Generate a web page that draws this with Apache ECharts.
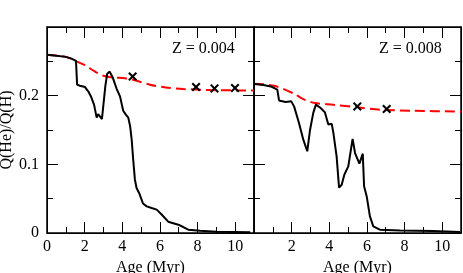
<!DOCTYPE html>
<html><head><meta charset="utf-8">
<script src="https://cdn.jsdelivr.net/npm/echarts@6/dist/echarts.min.js"></script>
<style>html,body{margin:0;padding:0;background:#fff}#c{width:463px;height:273px}</style>
</head><body><div id="c"></div>
<script>
// Panel titles
const panelLabels = ['Z = 0.004', 'Z = 0.008'];
const xTickLabels = ['0', '2', '4', '6', '8', '10'];
const yTickLabels = ['0', '0.1', '0.2'];

// Z = 0.004 : solid black model
const age004 = [0,0.5,1.0,1.3,1.54,1.6,1.75,2.02,2.2,2.35,2.5,2.64,2.72,2.82,2.92,3.1,3.2,3.33,3.5,3.7,3.88,4.05,4.2,4.32,4.42,4.5,4.58,4.67,4.76,4.9,5.1,5.3,5.56,5.83,6.09,6.44,6.98,7.24,7.51,8.13,9.0,10.8];
const q004   = [0.2597,0.258,0.2565,0.254,0.2508,0.216,0.2145,0.2125,0.206,0.198,0.187,0.168,0.173,0.174,0.166,0.214,0.232,0.235,0.226,0.21,0.199,0.178,0.172,0.168,0.155,0.136,0.107,0.078,0.0655,0.058,0.043,0.0388,0.0364,0.034,0.027,0.0165,0.0121,0.0087,0.0048,0.0033,0.002,0.001];
// Z = 0.004 : red dashed model
const ageDash004 = [0,1.0,1.58,2.02,2.5,3.0,3.5,4.14,4.57,5.47,6.3,7.24,9.0,11];
const qDash004   = [0.2597,0.2565,0.2499,0.2443,0.236,0.229,0.2265,0.2255,0.2232,0.216,0.212,0.2097,0.208,0.2075];
// Z = 0.004 : crosses
const ageX004 = [4.55,7.92,8.9,9.99];
const qX004   = [0.228,0.2127,0.2106,0.2111];

// Z = 0.008 : solid black model
const age008 = [0,0.5,0.89,1.24,1.33,1.68,1.98,2.13,2.39,2.62,2.83,2.98,3.15,3.29,3.54,3.77,3.95,4.13,4.22,4.39,4.52,4.66,4.8,5.01,5.24,5.37,5.6,5.78,5.85,5.99,6.16,6.34,6.69,7.76,9.5,10.95];
const q008   = [0.217,0.2155,0.2135,0.2087,0.1931,0.1908,0.1917,0.1844,0.1602,0.1359,0.119,0.1504,0.175,0.187,0.182,0.1756,0.158,0.159,0.1456,0.1116,0.066,0.0703,0.085,0.097,0.137,0.1165,0.101,0.1155,0.068,0.0533,0.0242,0.0096,0.0048,0.0038,0.003,0.0015];
// Z = 0.008 : red dashed model
const ageDash008 = [0,1.06,2.13,2.62,3.24,4.22,5.5,6.69,8.5,10.68,11];
const qDash008   = [0.2174,0.2145,0.2028,0.195,0.1893,0.1868,0.183,0.1796,0.178,0.177,0.1766];
// Z = 0.008 : crosses
const ageX008 = [5.49,7.05];
const qX008   = [0.1844,0.1805];

const zip = (a, b) => a.map((v, i) => [v, b[i]]);
const FONT = 'Liberation Serif';
const crossPath = 'path://M0,1.6L1.6,0L5,3.4L8.4,0L10,1.6L6.6,5L10,8.4L8.4,10L5,6.6L1.6,10L0,8.4L3.4,5Z';

function frame() {
  return {
    axisLine: { show: true, onZero: false, lineStyle: { color: '#000' } },
    axisTick: { show: true, inside: true, length: 11 },
    minorTick: { show: true, splitNumber: 2, length: 6 },
    splitLine: { show: false }
  };
}

function xAxes(grid, showZero) {
  const bottom = Object.assign(frame(), {
    type: 'value', gridIndex: grid, min: 0, max: 11, interval: 2, position: 'bottom',
    name: 'Age (Myr)', nameLocation: 'middle', nameGap: 14,
    nameTextStyle: { fontFamily: FONT, fontSize: 16, color: '#000' },
    axisLabel: {
      show: true, margin: 6, fontFamily: FONT, fontSize: 16, color: '#000',
      formatter: v => {
        const s = String(v);
        if (!showZero && v === 0) return ' ';
        return xTickLabels.indexOf(s) >= 0 ? s : ' ';
      }
    }
  });
  const top = Object.assign(frame(), {
    type: 'value', gridIndex: grid, min: 0, max: 11, interval: 2, position: 'top',
    axisLabel: { show: false }
  });
  return [bottom, top];
}

function yAxes(grid, showLabels) {
  const left = Object.assign(frame(), {
    type: 'value', gridIndex: grid, min: 0, max: 0.3, interval: 0.1, position: 'left',
    axisLabel: {
      show: showLabels, margin: 8, fontFamily: FONT, fontSize: 16, color: '#000',
      formatter: v => {
        const s = String(Math.round(v * 10) / 10);
        return yTickLabels.indexOf(s) >= 0 ? s : ' ';
      }
    }
  });
  if (showLabels) {
    Object.assign(left, {
      name: 'Q(He)/Q(H)', nameLocation: 'middle', nameGap: 32, nameRotate: 90,
      nameTextStyle: { fontFamily: FONT, fontSize: 16, color: '#000' }
    });
  }
  const right = Object.assign(frame(), {
    type: 'value', gridIndex: grid, min: 0, max: 0.3, interval: 0.1, position: 'right',
    axisLabel: { show: false }
  });
  return [left, right];
}

function solid(xi, yi, data) {
  return { type: 'line', xAxisIndex: xi, yAxisIndex: yi, data, showSymbol: false, symbol: 'none',
    lineStyle: { color: '#000', width: 2 }, z: 3 };
}
function dashed(xi, yi, data) {
  return { type: 'line', xAxisIndex: xi, yAxisIndex: yi, data, showSymbol: false, symbol: 'none', smooth: 0.3,
    lineStyle: { color: '#ff0000', width: 2, type: [10, 5] }, z: 2 };
}
function crosses(xi, yi, data) {
  return { type: 'scatter', xAxisIndex: xi, yAxisIndex: yi, data, symbol: crossPath, symbolSize: 9,
    itemStyle: { color: '#000', opacity: 1 }, z: 4 };
}

const chart = echarts.init(document.getElementById('c'));
chart.setOption({
  backgroundColor: '#fff',
  animation: false,
  grid: [
    { left: 47, top: 27, width: 207, height: 206, outerBoundsMode: 'none', show: true, borderColor: '#000', borderWidth: 1.5, backgroundColor: 'transparent' },
    { left: 254, top: 27, width: 207, height: 206, outerBoundsMode: 'none', show: true, borderColor: '#000', borderWidth: 1.5, backgroundColor: 'transparent' }
  ],
  xAxis: [...xAxes(0, true), ...xAxes(1, false)],
  yAxis: [...yAxes(0, true), ...yAxes(1, false)],
  graphic: [
    { type: 'text', left: 172, top: 41, style: { text: panelLabels[0], font: '16px "Liberation Serif"', fill: '#000' } },
    { type: 'text', left: 379, top: 41, style: { text: panelLabels[1], font: '16px "Liberation Serif"', fill: '#000' } }
  ],
  series: [
    dashed(0, 0, zip(ageDash004, qDash004)),
    solid(0, 0, zip(age004, q004)),
    crosses(0, 0, zip(ageX004, qX004)),
    dashed(2, 2, zip(ageDash008, qDash008)),
    solid(2, 2, zip(age008, q008)),
    crosses(2, 2, zip(ageX008, qX008))
  ]
});
</script>
</body></html>
